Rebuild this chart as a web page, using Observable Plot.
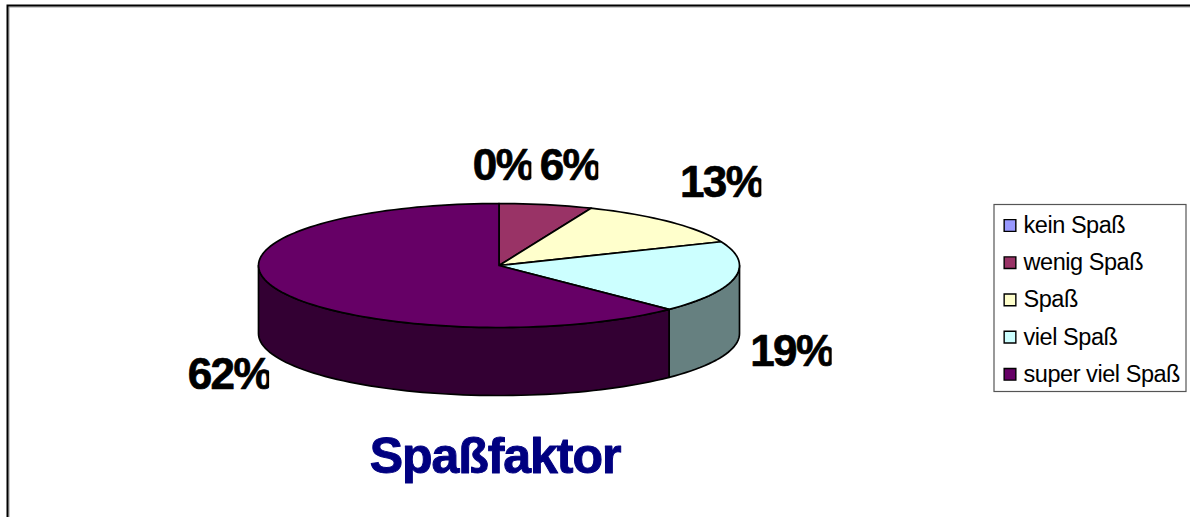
<!DOCTYPE html>
<html><head><meta charset="utf-8">
<script src="https://cdn.jsdelivr.net/npm/d3@7"></script>
<script src="https://cdn.jsdelivr.net/npm/@observablehq/plot@0.6"></script>
<style>
html,body{margin:0;padding:0;background:#fff;overflow:hidden}
svg{display:block}
.pct text{letter-spacing:-1.6px;clip-path:inset(-6px 3px -6px -6px)}
.ttl text{letter-spacing:-1.05px}
.lg text{letter-spacing:-0.45px}
</style></head><body><div id="chart"></div>
<script>
const categories = ["kein Spaß","wenig Spaß","Spaß","viel Spaß","super viel Spaß"];
const shares = [0, 6.25, 12.5, 18.75, 62.5];
const percentLabels = ["0%","6%","13%","19%","62%"];
const topColors = ["#9999FF","#993366","#FFFFCC","#CCFFFF","#660066"];
const sideColors = ["#4D4D80","#4D1A33","#808066","#668080","#330033"];
const titleText = "Spaßfaktor";

// layout
const W = 1190, H = 517;
const RX = 240.5, CX = 498.5, CY = 265, RY = 62, DEPTH = 68;
const labelNudge = [[4,-38],[24,-39],[52.5,-39],[57,6],[-47.5,18]];

let cum = 0;
const slices = shares.map((s,i) => {
  const a0 = cum / 100 * 2 * Math.PI; cum += s;
  const a1 = cum / 100 * 2 * Math.PI;
  return {i, s, a0, a1, mid:(a0+a1)/2};
});
const rim = (a, drop=0) => ({x: Math.sin(a), y: -Math.cos(a) + drop});
const drop = DEPTH / RY;

function arc(a0,a1,drop=0){
  const n = Math.max(2, Math.ceil((a1-a0)/(Math.PI/90)));
  return d3.range(n+1).map(k => rim(a0+(a1-a0)*k/n, drop));
}
const topPts = slices.flatMap(s => {
  const pts = [{x:0,y:0}, ...arc(s.a0,s.a1), {x:0,y:0}];
  return pts.map(p => ({...p, k:s.i}));
});
const sidePts = slices.flatMap(s => {
  const lo = Math.max(s.a0, Math.PI/2), hi = Math.min(s.a1, 3*Math.PI/2);
  if (hi <= lo) return [];
  const upper = arc(lo,hi,0), lower = arc(lo,hi,drop).reverse();
  return [...upper,...lower,upper[0]].map(p => ({...p, k:s.i}));
});
const labelRows = slices.map(s => {
  const front = Math.cos(s.mid) < 0;
  const p = rim(s.mid, front ? drop : 0);
  const n = labelNudge[s.i];
  return {x: p.x + n[0]/RX, y: p.y + n[1]/RY, t: percentLabels[s.i], k:s.i};
});

const FONT = "'Liberation Sans', Arial, sans-serif";
const legendMarks = categories.flatMap((c,i) => {
  const dy = 225 + i*37.2;
  return [
    Plot.dot([c], {frameAnchor:"top-left", dx:1009.5, dy, symbol:"square", r:6.6, fill:topColors[i], stroke:"#000", strokeWidth:1.4}),
    Plot.text([c], {frameAnchor:"top-left", dx:1023, dy, text:d=>d, textAnchor:"start", lineAnchor:"middle", fontSize:23.5, fontFamily:FONT, fill:"#000", className:"lg"})
  ];
});

const chart = Plot.plot({
  width:W, height:H, margin:0,
  style:{background:"#fff", fontFamily:FONT},
  x:{domain:[-1,1], range:[CX-RX,CX+RX], axis:null},
  y:{domain:[-1,1], range:[CY-RY,CY+RY], axis:null},
  marks:[
    Plot.frame({stroke:"#999", strokeWidth:1, insetLeft:8.5, insetTop:6.5, insetRight:-10, insetBottom:-10}),
    Plot.frame({stroke:"#000", strokeWidth:2, insetLeft:7, insetTop:5, insetRight:-10, insetBottom:-10}),
    Plot.line(sidePts, {x:"x", y:"y", z:"k", curve:"linear", fill:d=>sideColors[d.k], stroke:"#000", strokeWidth:1.7}),
    Plot.line(topPts, {x:"x", y:"y", z:"k", curve:"linear", fill:d=>topColors[d.k], stroke:"#000", strokeWidth:1.7}),
    Plot.text(labelRows, {x:"x", y:"y", text:"t", fontSize:44, fontWeight:"bold", fontFamily:FONT, fill:"#000", stroke:"#000", strokeWidth:0.7, textAnchor:"middle", lineAnchor:"middle", className:"pct"}),
    Plot.text([titleText], {frameAnchor:"top-left", dx:494.5, dy:456, text:d=>d, fontSize:50, fontWeight:"bold", fontFamily:FONT, fill:"#000080", stroke:"#000080", strokeWidth:1, textAnchor:"middle", lineAnchor:"middle", className:"ttl"}),
    Plot.frame({stroke:"#555", strokeWidth:1.2, fill:"#fff", insetLeft:993.5, insetTop:204, insetRight:4.5, insetBottom:126}),
    ...legendMarks
  ]
});
document.getElementById("chart").append(chart);
</script></body></html>
